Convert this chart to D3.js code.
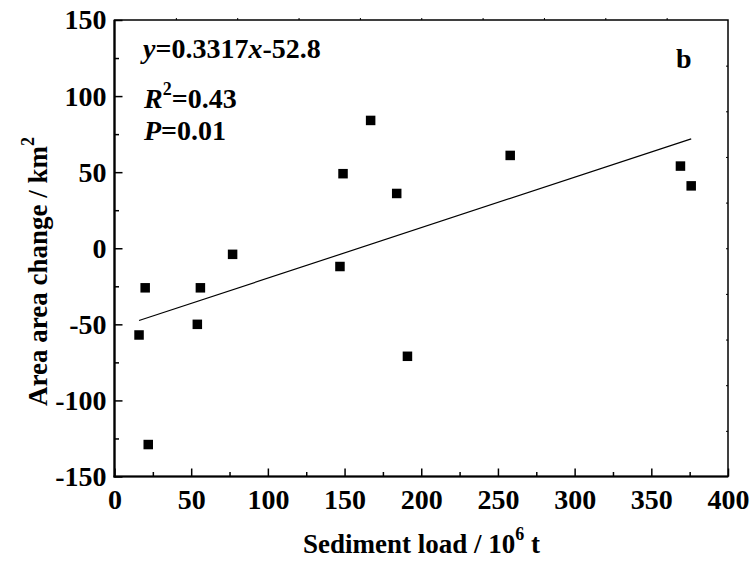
<!DOCTYPE html>
<html>
<head>
<meta charset="utf-8">
<script src="https://cdn.jsdelivr.net/npm/d3@7"></script>
<style>
  html, body { margin: 0; padding: 0; background: #fff; }
  svg { display: block; }
  text { font-family: "Liberation Serif", "Times New Roman", serif; font-weight: bold; fill: #000; }
</style>
</head>
<body>
<svg id="chart" width="752" height="565"></svg>
<script>
// ---- data ----
const sedimentLoad = [16, 20, 22, 54, 56, 77, 147, 149, 167, 184, 191, 258, 369, 376];
const areaChange   = [-57, -26, -129, -50, -26, -4, -12, 49, 84, 36, -71, 61, 54, 41];
const xTicks = [0, 50, 100, 150, 200, 250, 300, 350, 400];
const yTicks = [-150, -100, -50, 0, 50, 100, 150];
const fitSlope = 0.3317;
const fitIntercept = -52.8;
const fitRange = [16, 376];
const annotEquation = ["y", "=0.3317", "x", "-52.8"];
const annotR2 = "=0.43";
const annotP = "=0.01";
const panelLabel = "b";

// ---- layout ----
const svg = d3.select("#chart");
const L = 114.5, R = 728, T = 20, B = 476.5;
const x = d3.scaleLinear().domain([0, 400]).range([L, R]);
const y = d3.scaleLinear().domain([-150, 150]).range([B, T]);
const fsTick = 28, fsTitle = 27, fsAnn = 28;
const FONT = '"Liberation Serif","Times New Roman",serif';

// minor ticks (every 25)
const xMinor = d3.range(25, 400, 50);
const yMinor = d3.range(-125, 150, 50);

// frame
svg.append("rect").attr("x", L).attr("y", T).attr("width", R - L).attr("height", B - T)
  .attr("fill", "none").attr("stroke", "#000").attr("stroke-width", 1.5);
svg.append("line").attr("x1", L).attr("x2", L).attr("y1", T).attr("y2", B + 1).attr("stroke", "#000").attr("stroke-width", 2.2);
svg.append("line").attr("x1", L - 1).attr("x2", R).attr("y1", B).attr("y2", B).attr("stroke", "#000").attr("stroke-width", 2.2);

function styleAxis(g) {
  g.attr("font-family", FONT).attr("font-size", fsTick);
  g.select(".domain").remove();
  g.selectAll(".tick line").attr("stroke", "#000").attr("stroke-width", 1.5);
  g.selectAll("text").style("font-size", fsTick + "px").style("font-family", FONT).style("font-weight", "bold").attr("fill", "#000");
}
const fmt = d => String(d);

// bottom axis
svg.append("g").attr("transform", `translate(0,${B})`)
  .call(d3.axisBottom(x).tickValues(xTicks).tickSize(-8).tickSizeOuter(0).tickPadding(13).tickFormat(fmt))
  .call(styleAxis);
svg.append("g").attr("transform", `translate(0,${B})`)
  .call(d3.axisBottom(x).tickValues(xMinor).tickSize(-4.5).tickSizeOuter(0).tickFormat(""))
  .call(styleAxis);

// left axis
svg.append("g").attr("transform", `translate(${L},0)`)
  .call(d3.axisLeft(y).tickValues(yTicks).tickSize(-8).tickSizeOuter(0).tickPadding(8).tickFormat(fmt))
  .call(styleAxis);
svg.append("g").attr("transform", `translate(${L},0)`)
  .call(d3.axisLeft(y).tickValues(yMinor).tickSize(-4.5).tickSizeOuter(0).tickFormat(""))
  .call(styleAxis);

// top axis (tiny ticks, 10 intervals)
const xTop = d3.scaleLinear().domain([0, 10]).range([L, R]);
svg.append("g").attr("transform", `translate(0,${T})`)
  .call(d3.axisTop(xTop).tickValues(d3.range(1, 10)).tickSize(2).tickSizeOuter(0).tickFormat(""))
  .call(g => { styleAxis(g); g.selectAll(".tick line").attr("stroke-width", 1); });
// right axis (tiny ticks, 10 intervals)
const yRight = d3.scaleLinear().domain([0, 10]).range([B, T]);
svg.append("g").attr("transform", `translate(${R},0)`)
  .call(d3.axisRight(yRight).tickValues(d3.range(1, 10)).tickSize(-2).tickSizeOuter(0).tickFormat(""))
  .call(g => { styleAxis(g); g.selectAll(".tick line").attr("stroke-width", 1); });

// regression line
svg.append("line")
  .attr("x1", x(fitRange[0])).attr("y1", y(fitSlope * fitRange[0] + fitIntercept))
  .attr("x2", x(fitRange[1])).attr("y2", y(fitSlope * fitRange[1] + fitIntercept))
  .attr("stroke", "#000").attr("stroke-width", 1.2);

// points
const ms = 9.5;
svg.append("g").selectAll("rect").data(sedimentLoad.map((v, i) => [v, areaChange[i]]))
  .join("rect")
  .attr("x", d => x(d[0]) - ms / 2).attr("y", d => y(d[1]) - ms / 2)
  .attr("width", ms).attr("height", ms).attr("fill", "#000");

// annotations
const t1 = svg.append("text").attr("x", 143).attr("y", 58).style("font-size", fsAnn + "px");
t1.append("tspan").attr("font-style", "italic").text(annotEquation[0]);
t1.append("tspan").text(annotEquation[1]);
t1.append("tspan").attr("font-style", "italic").text(annotEquation[2]);
t1.append("tspan").text(annotEquation[3]);

const t2 = svg.append("text").attr("x", 144).attr("y", 108).style("font-size", fsAnn + "px");
t2.append("tspan").attr("font-style", "italic").text("R");
t2.append("tspan").attr("dy", -13).style("font-size", "18px").text("2");
t2.append("tspan").attr("dy", 13).text(annotR2);

const t3 = svg.append("text").attr("x", 144).attr("y", 140).style("font-size", fsAnn + "px");
t3.append("tspan").attr("font-style", "italic").text("P");
t3.append("tspan").text(annotP);

svg.append("text").attr("x", 676).attr("y", 68).style("font-size", fsAnn + "px").text(panelLabel);

// x title
const xt = svg.append("text").attr("x", 303).attr("y", 553).attr("text-anchor", "start").style("font-size", fsTitle + "px");
xt.append("tspan").text("Sediment load / 10");
xt.append("tspan").attr("dy", -13).style("font-size", "18px").text("6");
xt.append("tspan").attr("dy", 13).text(" t");

// y title
const yt = svg.append("text").attr("transform", "translate(47,406) rotate(-90)").attr("text-anchor", "start").style("font-size", fsTitle + "px");
yt.append("tspan").text("Area area change / km");
yt.append("tspan").attr("dy", -13).style("font-size", "18px").text("2");
</script>
</body>
</html>
